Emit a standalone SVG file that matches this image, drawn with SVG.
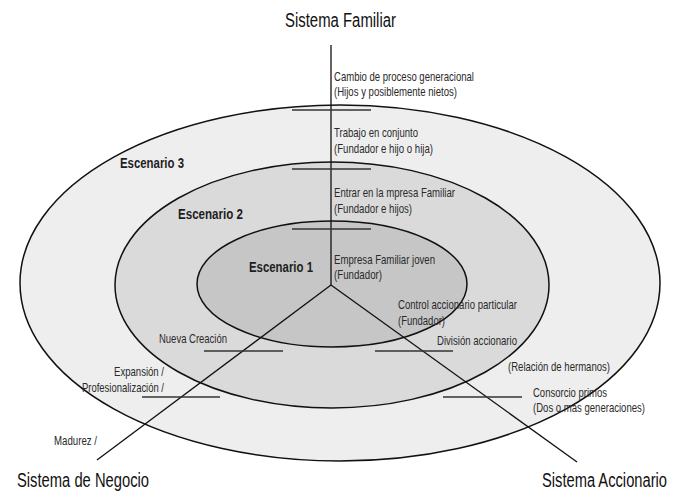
<svg xmlns="http://www.w3.org/2000/svg" width="681" height="497" viewBox="0 0 681 497">
<style>
.ring{stroke:#111;stroke-width:1.5}
.axis{stroke:#111;stroke-width:1.3;fill:none}
.tick{stroke:#333;stroke-width:1.3}
text{font-family:"Liberation Sans",Arial,sans-serif;fill:#2a2a2a}
.s{font-size:13px}
.b{font-size:14px;font-weight:bold;fill:#1e1e1e}
.big{font-size:20px;fill:#111}
</style>
<rect width="681" height="497" fill="#fff"/>
<g id="escenario3">
<ellipse class="ring" cx="340" cy="283" rx="320" ry="178" fill="#eeeeee"/>
<text class="b" x="120" y="168" textLength="64" lengthAdjust="spacingAndGlyphs">Escenario 3</text>
</g>
<g id="escenario2">
<ellipse class="ring" cx="332" cy="285" rx="217" ry="123" fill="#dadada"/>
<text class="b" x="178" y="219" textLength="65" lengthAdjust="spacingAndGlyphs">Escenario 2</text>
</g>
<g id="escenario1">
<ellipse class="ring" cx="332" cy="284" rx="135" ry="63" fill="#c6c6c6"/>
<text class="b" x="249" y="272" textLength="64" lengthAdjust="spacingAndGlyphs">Escenario 1</text>
</g>
<g id="connectors">
<line class="axis" x1="331" y1="45" x2="331" y2="285"/>
<line class="axis" x1="331" y1="285" x2="97" y2="460"/>
<line class="axis" x1="331" y1="285" x2="577" y2="462"/>
<line class="tick" x1="292" y1="110" x2="371" y2="110"/>
<line class="tick" x1="292" y1="169" x2="371" y2="169"/>
<line class="tick" x1="292" y1="229" x2="371" y2="229"/>
<line class="tick" x1="204" y1="351" x2="283" y2="351"/>
<line class="tick" x1="142" y1="397" x2="220" y2="397"/>
<line class="tick" x1="375" y1="351" x2="453" y2="351"/>
<line class="tick" x1="443" y1="397" x2="522" y2="397"/>
</g>
<g id="sistema-familiar">
<text class="big" x="285" y="27" textLength="111" lengthAdjust="spacingAndGlyphs">Sistema Familiar</text>
<text class="s" x="334" y="81" textLength="140" lengthAdjust="spacingAndGlyphs">Cambio de proceso generacional</text>
<text class="s" x="334" y="96" textLength="123" lengthAdjust="spacingAndGlyphs">(Hijos y posiblemente nietos)</text>
<text class="s" x="334" y="137" textLength="84" lengthAdjust="spacingAndGlyphs">Trabajo en conjunto</text>
<text class="s" x="334" y="153" textLength="99" lengthAdjust="spacingAndGlyphs">(Fundador e hijo o hija)</text>
<text class="s" x="334" y="197" textLength="121" lengthAdjust="spacingAndGlyphs">Entrar en la mpresa Familiar</text>
<text class="s" x="334" y="213" textLength="78" lengthAdjust="spacingAndGlyphs">(Fundador e hijos)</text>
<text class="s" x="334" y="264" textLength="101" lengthAdjust="spacingAndGlyphs">Empresa Familiar joven</text>
<text class="s" x="334" y="279" textLength="48" lengthAdjust="spacingAndGlyphs">(Fundador)</text>
</g>
<g id="sistema-negocio">
<text class="big" x="17" y="487" textLength="132" lengthAdjust="spacingAndGlyphs">Sistema de Negocio</text>
<text class="s" x="159" y="343" textLength="68" lengthAdjust="spacingAndGlyphs">Nueva Creación</text>
<text class="s" x="114" y="376" textLength="50" lengthAdjust="spacingAndGlyphs">Expansión /</text>
<text class="s" x="82" y="392" textLength="82" lengthAdjust="spacingAndGlyphs">Profesionalización /</text>
<text class="s" x="54" y="445" textLength="43" lengthAdjust="spacingAndGlyphs">Madurez /</text>
</g>
<g id="sistema-accionario">
<text class="big" x="542" y="487" textLength="125" lengthAdjust="spacingAndGlyphs">Sistema Accionario</text>
<text class="s" x="398" y="309" textLength="119" lengthAdjust="spacingAndGlyphs">Control accionario particular</text>
<text class="s" x="398" y="325" textLength="47" lengthAdjust="spacingAndGlyphs">(Fundador)</text>
<text class="s" x="437" y="345" textLength="80" lengthAdjust="spacingAndGlyphs">División accionario</text>
<text class="s" x="508" y="371" textLength="102" lengthAdjust="spacingAndGlyphs">(Relación de hermanos)</text>
<text class="s" x="533" y="397" textLength="74" lengthAdjust="spacingAndGlyphs">Consorcio primos</text>
<text class="s" x="533" y="412" textLength="112" lengthAdjust="spacingAndGlyphs">(Dos o más generaciones)</text>
</g>
</svg>
